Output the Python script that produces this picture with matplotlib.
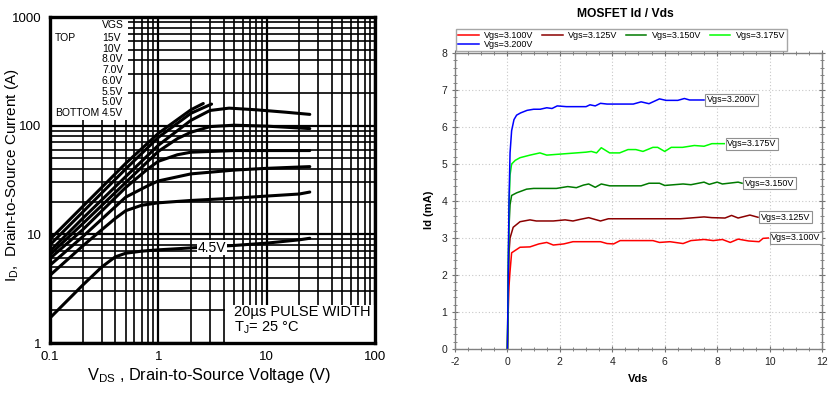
import matplotlib
matplotlib.use("Agg")
import matplotlib.pyplot as plt
from matplotlib.patches import Rectangle
from matplotlib.ticker import FixedLocator, MultipleLocator, NullFormatter

plt.rcParams['font.family'] = ['Liberation Sans', 'DejaVu Sans']
plt.rcParams['axes.unicode_minus'] = False

# ---- left panel: datasheet output characteristics (log-log) ----
vgs_labels = ["15V", "10V", "8.0V", "7.0V", "6.0V", "5.5V", "5.0V", "4.5V"]

vds_15 = [0.1, 0.2, 0.5, 1.0, 2.0, 2.6]
id_15 = [9.0, 18, 45, 85, 140, 160]
vds_10 = [0.1, 0.2, 0.5, 1.0, 2.0, 3.1]
id_10 = [8.0, 16, 40, 78, 130, 158]
vds_8 = [0.1, 0.2, 0.5, 1.0, 2.0, 3.0, 4.5, 8.0, 15, 25]
id_8 = [7.0, 14, 34, 66, 112, 138, 145, 140, 133, 127]
vds_7 = [0.1, 0.2, 0.5, 1.0, 1.5, 2.0, 3.0, 5.0, 10, 25]
id_7 = [6.5, 12.5, 30, 58, 76, 87, 98, 101, 99, 94]
vds_6 = [0.1, 0.2, 0.5, 0.8, 1.0, 1.5, 2.0, 5.0, 10, 25]
id_6 = [6.0, 11, 27, 40, 47, 54, 57, 59, 59, 59]
vds_55 = [0.1, 0.2, 0.5, 0.8, 1.0, 2.0, 5.0, 10, 25]
id_55 = [5.2, 9.5, 22, 28, 31, 36, 39, 40.5, 42]
vds_5 = [0.1, 0.2, 0.3, 0.4, 0.5, 0.7, 1.0, 2.0, 5.0, 10, 20, 25]
id_5 = [4.2, 7.8, 11, 14, 16.5, 18.5, 19.5, 20.5, 21.5, 22.5, 23.5, 24.5]
vds_45 = [0.1, 0.2, 0.3, 0.4, 0.5, 0.7, 1.0, 2.0, 5.0, 10, 20, 25]
id_45 = [1.7, 3.4, 5.0, 6.2, 6.7, 7.0, 7.2, 7.5, 7.9, 8.3, 8.9, 9.2]

left_curves = [(vds_15, id_15), (vds_10, id_10), (vds_8, id_8), (vds_7, id_7),
               (vds_6, id_6), (vds_55, id_55), (vds_5, id_5), (vds_45, id_45)]

# ---- right panel: simulated Id / Vds ----
vgs_names = ["Vgs=3.100V", "Vgs=3.125V", "Vgs=3.150V", "Vgs=3.175V", "Vgs=3.200V"]
vgs_colors = ["#ff0000", "#8b0000", "#007a00", "#00ff00", "#0000ff"]

vds_a = [0, 0.03, 0.06, 0.1, 0.16, 0.48, 0.86, 1.2, 1.5, 1.75, 2.15, 2.5, 3.55,
         3.8, 4.05, 4.3, 5.55, 5.8, 6.2, 6.7, 7.0, 7.5, 7.85, 8.2, 8.5, 8.8,
         9.2, 9.6, 9.75, 9.95]
id_a = [0, 1.0, 1.7, 2.1, 2.6, 2.75, 2.76, 2.84, 2.88, 2.81, 2.84, 2.9, 2.9,
        2.85, 2.84, 2.93, 2.93, 2.88, 2.9, 2.85, 2.93, 2.96, 2.93, 2.96, 2.88,
        2.97, 2.92, 2.9, 2.99, 3.0]

vds_b = [0, 0.03, 0.06, 0.1, 0.22, 0.48, 0.86, 1.1, 1.75, 2.2, 2.5, 2.75, 3.1,
         3.55, 3.85, 5.55, 6.6, 7.5, 7.8, 8.3, 8.55, 8.8, 9.25, 9.56]
id_b = [0, 1.5, 2.6, 3.0, 3.29, 3.44, 3.49, 3.46, 3.46, 3.49, 3.46, 3.5, 3.55,
        3.46, 3.52, 3.52, 3.52, 3.57, 3.55, 3.54, 3.61, 3.54, 3.62, 3.56]

vds_c = [0, 0.03, 0.06, 0.1, 0.16, 0.35, 0.73, 1.0, 1.87, 2.3, 2.63, 2.9, 3.1,
         3.35, 3.58, 3.9, 5.1, 5.4, 5.8, 6.0, 6.7, 7.0, 7.5, 7.7, 8.0, 8.2,
         8.8, 8.95]
id_c = [0, 2.0, 3.3, 3.9, 4.15, 4.22, 4.32, 4.34, 4.34, 4.39, 4.36, 4.43, 4.46,
        4.37, 4.46, 4.41, 4.41, 4.48, 4.48, 4.42, 4.46, 4.44, 4.51, 4.45, 4.51,
        4.46, 4.51, 4.48]

vds_d = [0, 0.03, 0.06, 0.1, 0.16, 0.3, 0.48, 0.86, 1.24, 1.5, 1.87, 2.25,
         2.63, 3.0, 3.2, 3.4, 3.58, 3.9, 4.28, 4.6, 4.9, 5.17, 5.55, 5.73, 6.0,
         6.25, 6.68, 7.13, 7.5, 7.8, 8.27]
id_d = [0, 2.0, 3.8, 4.7, 5.0, 5.1, 5.17, 5.24, 5.3, 5.24, 5.26, 5.28, 5.3,
        5.32, 5.34, 5.3, 5.44, 5.3, 5.3, 5.39, 5.39, 5.34, 5.45, 5.45, 5.34,
        5.45, 5.45, 5.5, 5.48, 5.55, 5.55]

vds_e = [0, 0.03, 0.06, 0.1, 0.16, 0.25, 0.35, 0.5, 0.75, 1.0, 1.25, 1.5, 1.7,
         1.9, 2.25, 2.6, 3.0, 3.15, 3.35, 3.55, 3.8, 4.2, 4.8, 5.1, 5.4, 5.8,
         6.05, 6.5, 6.75, 6.95, 7.2, 7.5]
id_e = [0, 2.0, 4.0, 5.3, 5.9, 6.2, 6.32, 6.38, 6.45, 6.48, 6.48, 6.52, 6.5,
        6.57, 6.55, 6.55, 6.55, 6.6, 6.57, 6.64, 6.62, 6.62, 6.62, 6.68, 6.63,
        6.76, 6.72, 6.72, 6.77, 6.73, 6.73, 6.73]

right_curves = [(vds_a, id_a), (vds_b, id_b), (vds_c, id_c), (vds_d, id_d),
                (vds_e, id_e)]

W, H = 837, 393
fig = plt.figure(figsize=(W / 100, H / 100), dpi=100)

# ================= left =================
ax = fig.add_axes([50 / W, 1 - 343 / H, 325 / W, 326 / H])
ax.set_xscale("log")
ax.set_yscale("log")
ax.set_xlim(0.1, 100)
ax.set_ylim(1, 1000)
ax.set_axisbelow(True)
ax.grid(True, which="major", color="black", lw=1.6)
ax.grid(True, which="minor", color="black", lw=1.2)
ax.xaxis.set_major_locator(FixedLocator([0.1, 1, 10, 100]))
ax.yaxis.set_major_locator(FixedLocator([1, 10, 100, 1000]))
ax.set_xticklabels(["0.1", "1", "10", "100"])
ax.set_yticklabels(["1", "10", "100", "1000"])
ax.xaxis.set_minor_formatter(NullFormatter())
ax.yaxis.set_minor_formatter(NullFormatter())
ax.tick_params(which="both", length=0, labelsize=9.5, pad=6)
for s in ax.spines.values():
    s.set_linewidth(2.4)
    s.set_zorder(5)

# blank the grid behind the VGS list and the pulse-width note
ax.add_patch(Rectangle((0, 0.684), 0.24, 0.316, transform=ax.transAxes,
                       fc="white", ec="none", zorder=1.5))
ax.add_patch(Rectangle((0.538, 0), 0.462, 0.117, transform=ax.transAxes,
                       fc="white", ec="none", zorder=1.5))

for vx, iy in left_curves:
    ax.plot(vx, iy, color="black", lw=2.2, solid_capstyle="round", zorder=3)

ax.text(3.1, 7.55, "4.5V", fontsize=10, ha="center", va="center", zorder=4,
        bbox=dict(fc="white", ec="none", pad=0.5))

rows = [0.975, 0.936, 0.903, 0.870, 0.837, 0.804, 0.771, 0.739, 0.706]
ax.text(0.16, rows[0], "VGS", transform=ax.transAxes, fontsize=7.5,
        va="center", zorder=4)
for r, lab in zip(rows[1:], vgs_labels):
    ax.text(0.16, r, lab, transform=ax.transAxes, fontsize=7.5,
            va="center", zorder=4)
ax.text(0.015, rows[1], "TOP", transform=ax.transAxes, fontsize=7.5,
        va="center", zorder=4)
ax.text(0.015, rows[-1], "BOTTOM", transform=ax.transAxes, fontsize=7.5,
        va="center", zorder=4)
ax.text(0.565, 0.095, "20µs PULSE WIDTH", transform=ax.transAxes,
        fontsize=10.5, va="center", zorder=4)
ax.text(0.565, 0.048, "T$_\\mathregular{J}$= 25 °C", transform=ax.transAxes,
        fontsize=10.5, va="center", zorder=4)

ax.set_xlabel("V$_\\mathregular{DS}$ , Drain-to-Source Voltage (V)", fontsize=11.8)
ax.xaxis.set_label_coords(0.49, -0.072)
ax.set_ylabel("I$_\\mathregular{D}$,  Drain-to-Source Current (A)", fontsize=11)
ax.yaxis.set_label_coords(-0.088, 0.515)

# ================= right =================
ax2 = fig.add_axes([455 / W, 1 - 349 / H, 367 / W, 296 / H])
for (vx, iy), c in zip(right_curves, vgs_colors):
    ax2.plot(vx, iy, color=c, lw=1.1)
ax2.set_xlim(-2, 12)
ax2.set_ylim(0, 8)
ax2.xaxis.set_major_locator(MultipleLocator(2))
ax2.xaxis.set_minor_locator(MultipleLocator(0.5))
ax2.yaxis.set_major_locator(MultipleLocator(1))
ax2.yaxis.set_minor_locator(MultipleLocator(0.2))
ax2.grid(True, which="major", color="#c8c8c8", ls=(0, (1, 2)), lw=0.8)
ax2.tick_params(which="both", direction="inout", colors="#707070",
                labelcolor="#222222", labelsize=7.5, top=True, right=True)
ax2.tick_params(which="major", length=4)
ax2.tick_params(which="minor", length=2.5)
for s in ax2.spines.values():
    s.set_color("#808080")
    s.set_linewidth(1.0)

for (vx, iy), name in zip(right_curves, vgs_names):
    ax2.annotate(name, xy=(vx[-1], iy[-1]), xytext=(2, 0),
                 textcoords="offset points", fontsize=6.5, va="center",
                 ha="left",
                 bbox=dict(boxstyle="square,pad=0.15", fc="white",
                           ec="#909090", lw=0.8))

ax2.set_xlabel("Vds", fontsize=8, fontweight="bold")
ax2.xaxis.set_label_coords(0.5, -0.085)
ax2.set_ylabel("Id (mA)", fontsize=8, fontweight="bold")
ax2.yaxis.set_label_coords(-0.058, 0.47)
fig.text(625 / W, 1 - 14 / H, "MOSFET Id / Vds", fontsize=8.7,
         fontweight="bold", ha="center", va="center")

handles = ax2.get_lines()[:5]
order = [0, 4, 1, 2, 3]
leg = fig.legend([handles[i] for i in order], [vgs_names[i] for i in order],
                 ncol=4, loc="upper left", mode="expand",
                 bbox_to_anchor=(456 / W, 1 - 49 / H, 331 / W, 20 / H),
                 bbox_transform=fig.transFigure, borderaxespad=0,
                 fontsize=6.5, frameon=True, fancybox=False,
                 handlelength=2.3, handletextpad=0.6, labelspacing=0.05,
                 borderpad=0.2, columnspacing=1.0)
leg.get_frame().set_edgecolor("#909090")
leg.get_frame().set_linewidth(1.0)

fig.savefig("out.png", dpi=100)
